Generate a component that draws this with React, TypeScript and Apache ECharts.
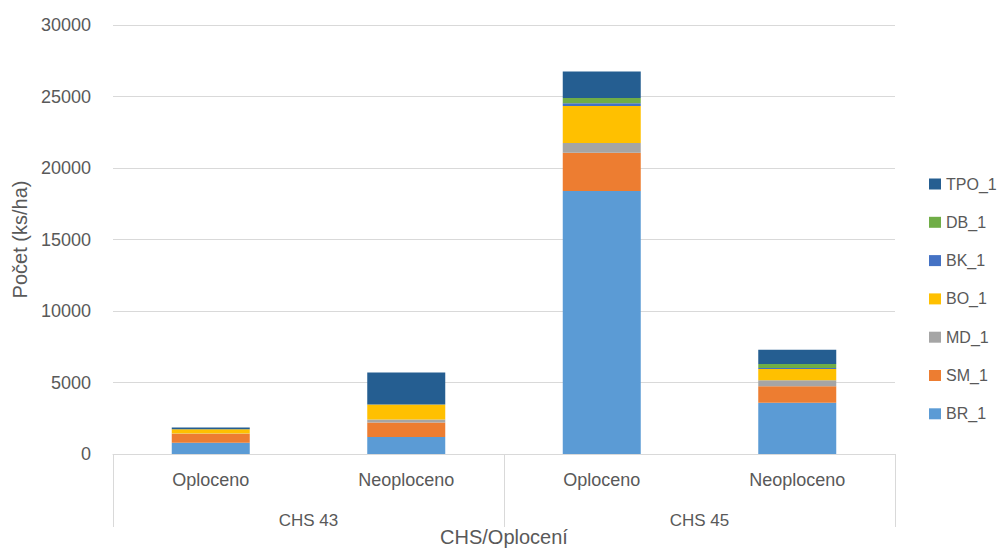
import React, { useEffect, useRef } from "react";
import * as echarts from "echarts";

const categories = ["Oploceno", "Neoploceno", "Oploceno", "Neoploceno"];
const groups = ["CHS 43", "CHS 45"];
const seriesNames = ["BR_1", "SM_1", "MD_1", "BO_1", "BK_1", "DB_1", "TPO_1"];
const BR_1 = [780, 1195, 18400, 3585];
const SM_1 = [640, 1005, 2660, 1155];
const MD_1 = [20, 210, 690, 425];
const BO_1 = [290, 1055, 2590, 780];
const BK_1 = [0, 0, 185, 70];
const DB_1 = [0, 0, 370, 283];
const TPO_1 = [120, 2230, 1850, 990];
const seriesValues = [BR_1, SM_1, MD_1, BO_1, BK_1, DB_1, TPO_1];
const colors = ["#5B9BD5", "#ED7D31", "#A5A5A5", "#FFC000", "#4472C4", "#70AD47", "#255E91"];
const yTicks = { min: 0, max: 30000, interval: 5000 };

const FONT = "Liberation Sans, Arial, sans-serif";
const TXT = "#595959";
const GRID = "#d9d9d9";

export default function App() {
  const ref = useRef<HTMLDivElement>(null);
  useEffect(() => {
    if (!ref.current) return;
    const chart = echarts.init(ref.current, null, { renderer: "svg" });
    chart.setOption({
      animation: false,
      textStyle: { fontFamily: FONT },
      grid: { left: 113, right: 104, top: 25, bottom: 95, containLabel: false },
      legend: {
        orient: "vertical",
        left: 924,
        top: 169,
        itemWidth: 12,
        itemHeight: 11,
        itemGap: 18.3,
        icon: "rect",
        data: [...seriesNames].reverse(),
        textStyle: { color: TXT, fontSize: 16, fontFamily: FONT, lineHeight: 20 },
      },
      xAxis: [
        {
          type: "category",
          data: categories,
          position: "bottom",
          axisLine: { show: true, lineStyle: { color: GRID, width: 1 } },
          axisTick: { show: false },
          axisLabel: { color: TXT, fontSize: 18, margin: 17, interval: 0 },
          name: "CHS/Oplocení",
          nameLocation: "middle",
          nameGap: 73,
          nameTextStyle: { color: TXT, fontSize: 20 },
        },
        {
          type: "category",
          data: groups,
          position: "bottom",
          gridIndex: 0,
          axisLine: { show: false },
          axisTick: { show: true, length: 73, interval: 0, lineStyle: { color: GRID, width: 1 } },
          axisLabel: { color: TXT, fontSize: 17, margin: 58, interval: 0 },
        },
      ],
      yAxis: {
        type: "value",
        min: yTicks.min,
        max: yTicks.max,
        interval: yTicks.interval,
        axisLine: { show: false },
        axisTick: { show: false },
        splitLine: { lineStyle: { color: GRID, width: 1 } },
        axisLabel: { color: TXT, fontSize: 18, margin: 22, formatter: (v: number) => String(v) },
        name: "Počet (ks/ha)",
        nameLocation: "middle",
        nameGap: 83,
        nameTextStyle: { color: TXT, fontSize: 20 },
      },
      series: seriesNames.map((name, i) => ({
        name,
        type: "bar",
        stack: "total",
        xAxisIndex: 0,
        barWidth: 78,
        data: seriesValues[i],
        itemStyle: { color: colors[i] },
      })),
    });
    return () => chart.dispose();
  }, []);
  return <div ref={ref} style={{ width: 999, height: 552, position: "absolute", left: 0, top: 0 }} />;
}
